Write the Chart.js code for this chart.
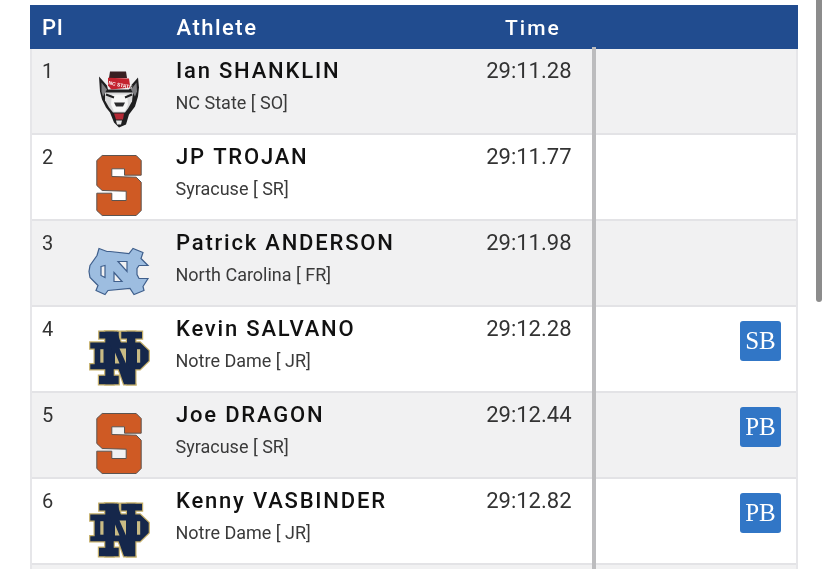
<!DOCTYPE html>
<html>
<head>
<meta charset="utf-8">
<title>Results</title>
<script src="https://cdn.jsdelivr.net/npm/chart.js@4"></script>
<style>
  html, body { margin: 0; padding: 0; background: #fff; overflow: hidden; height: 569px; }
  canvas { display: block; }
</style>
</head>
<body>
<canvas id="results-chart" width="828" height="650"></canvas>
<script>
// table contents, the seventh row is the one cut off by the window
const places = ['1', '2', '3', '4', '5', '6', ''];
const athletes = ['Ian SHANKLIN', 'JP TROJAN', 'Patrick ANDERSON', 'Kevin SALVANO', 'Joe DRAGON', 'Kenny VASBINDER', ''];
const teams = ['NC State', 'Syracuse', 'North Carolina', 'Notre Dame', 'Syracuse', 'Notre Dame', ''];
const classes = ['SO', 'SR', 'FR', 'JR', 'SR', 'JR', ''];
const times = ['29:11.28', '29:11.77', '29:11.98', '29:12.28', '29:12.44', '29:12.82', ''];
const badges = ['', '', '', 'SB', 'PB', 'PB', ''];
const headers = ['Pl', 'Athlete', 'Time'];

// one full width band per row
const rowBands = places.map(() => 768);

const logoPainters = {
    'NC State': drawWolf,
    'Syracuse': drawBlockS,
    'North Carolina': drawInterlockNC,
    'Notre Dame': drawMonogramND,
};

function polygon(ctx, pts) {
    ctx.beginPath();
    pts.forEach((p, i) => (i ? ctx.lineTo(p[0], p[1]) : ctx.moveTo(p[0], p[1])));
    ctx.closePath();
}

function fillPolygon(ctx, pts, color) {
    polygon(ctx, pts);
    ctx.fillStyle = color;
    ctx.fill();
}

function drawBlockS(ctx) {
    polygon(ctx, [[-16.8, -30], [17.2, -30], [22.2, -25], [22.2, -10.3], [5.5, -10.3], [5.5, -16.7], [-7.2, -16.7], [-7.2, -9], [17.2, -8.3], [22.2, -3.3], [22.2, 25], [17.2, 30], [-16.8, 30], [-22.2, 25], [-22.2, 7.7], [-7.2, 7.7], [-7.2, 15], [7.2, 15], [7.2, 5.7], [-16.8, 5], [-22.2, 0], [-22.2, -25]]);
    ctx.fillStyle = '#cf5a24';
    ctx.strokeStyle = '#5c5450';
    ctx.lineWidth = 1;
    ctx.fill();
    ctx.stroke();
}

function drawInterlockNC(ctx) {
    polygon(ctx, [[-22, -16], [-20, -23], [-12, -20], [-9, -20], [10, -18], [14, -23], [24, -19], [22, -13], [29, -6], [20, -6], [18, -3], [18, 3], [20, 7], [29, 7], [24, 15], [25, 19], [15, 23], [11, 17], [-11, 19], [-14, 23], [-23, 19], [-21, 14], [-29, 6], [-30, 0], [-29, -6]]);
    ctx.fillStyle = '#9dbde0';
    ctx.strokeStyle = '#3f5f8c';
    ctx.lineWidth = 1.2;
    ctx.fill();
    ctx.stroke();
    // triangles and the slot inside the letters
    ctx.fillStyle = '#f1f1f2';
    [[[-1, -10], [8, -10], [8, 0]], [[-5, 1], [3, 10], [-5, 10]], [[-18, -5], [-14, -6], [-14, 6], [-18, 4]]].forEach(pts => {
        polygon(ctx, pts);
        ctx.fill();
        ctx.stroke();
    });
}

function drawMonogramND(ctx) {
    const blocks = [
        [[-28.7, -15], [21, -15], [29.7, -6.7], [29.7, 3.3], [21, 11.7], [-28.7, 11.7], [-28.7, 6.7], [-24.3, 6.7], [-24.3, -9], [-28.7, -9]],
        [[-19.7, -25.7], [-0.3, -25.7], [-0.3, -19], [-19.7, -19]],
        [[2.3, -25.7], [23, -25.7], [23, -19], [2.3, -19]],
        [[-13.7, -25.7], [-5.3, -25.7], [-5.3, 26.7], [-13.7, 26.7]],
        [[8, -25.7], [16.3, -25.7], [16.3, 26.7], [8, 26.7]],
        [[-20, 18.3], [-0.3, 18.3], [-0.3, 26.7], [-20, 26.7]],
        [[-13.7, -25.7], [-2, -25.7], [16.3, 26.7], [5, 26.7]],
    ];
    // gold edge first, the navy letters go on top of it
    ctx.strokeStyle = '#c4ae68';
    ctx.lineWidth = 2.4;
    ctx.lineJoin = 'miter';
    blocks.forEach(pts => {
        polygon(ctx, pts);
        ctx.stroke();
    });
    blocks.forEach(pts => fillPolygon(ctx, pts, '#15274b'));
    // pale windows between the letters
    const gold = '#c9bb84';
    ctx.fillStyle = gold;
    ctx.fillRect(-18.7, -8.3, 3.2, 13.5);
    ctx.fillRect(18, -8.3, 3.2, 13.5);
    fillPolygon(ctx, [[-4, -5], [-4, 6], [0.5, 6]], gold);
    fillPolygon(ctx, [[0.5, -9], [7, -9], [7, 6]], gold);
}

function drawWolf(ctx) {
    // head outline with both ears
    fillPolygon(ctx, [[-20, -23], [-12, -14], [-11, -10], [10, -10], [12, -14], [19, -22], [20, -12], [19, -3], [16, 7], [10, 15], [7, 25], [0, 28], [-5, 23], [-9, 13], [-13, 8], [-17, 0], [-19, -8]], '#1f1f20');
    fillPolygon(ctx, [[-17.5, -17], [-12, -10], [-16, -3], [-17.5, -8]], '#7d7d80');
    fillPolygon(ctx, [[17.5, -17], [12, -10], [16, -3], [18, -8]], '#7d7d80');
    // face
    fillPolygon(ctx, [[-14, -7], [14, -7], [13, 2], [9, 9], [6, 13], [-6, 13], [-10, 8], [-14, 1]], '#d9d9da');
    fillPolygon(ctx, [[-7, -5], [8, -5], [9, 5], [6, 12], [-5, 12], [-8, 5]], '#f6f6f6');
    // brows
    ctx.strokeStyle = '#1f1f20';
    ctx.lineWidth = 2;
    ctx.beginPath();
    ctx.moveTo(-13, -5);
    ctx.lineTo(-5, -2);
    ctx.moveTo(13, -5);
    ctx.lineTo(6, -2);
    ctx.stroke();
    // nose
    fillPolygon(ctx, [[-5, 3], [6, 3], [4, 7], [-3, 7]], '#2a2a2c');
    // mouth and chin
    fillPolygon(ctx, [[-5, 14], [5, 14], [4, 20], [-3, 20]], '#b52a36');
    fillPolygon(ctx, [[-3, 21], [3, 21], [2, 25], [-2, 25]], '#e8e8e8');
    // hat
    fillPolygon(ctx, [[-9, -28], [7, -28], [8, -21.5], [-10, -21.5]], '#3a1f22');
    fillPolygon(ctx, [[-11, -21.7], [10, -21], [11.3, -12], [-7.7, -10], [-11, -14]], '#c4232f');
    ctx.save();
    ctx.translate(-10, -19);
    ctx.rotate(0.2);
    ctx.fillStyle = '#ffffff';
    ctx.font = 'bold 5px "Liberation Sans"';
    ctx.textAlign = 'left';
    ctx.textBaseline = 'top';
    ctx.fillText('NC STATE', 0, 0);
    ctx.restore();
}

function putText(ctx, text, x, y, font, color, align, spacing) {
    ctx.font = font;
    ctx.fillStyle = color;
    ctx.textAlign = align || 'left';
    ctx.textBaseline = 'alphabetic';
    ctx.letterSpacing = spacing || '0px';
    ctx.fillText(text, x, y);
    ctx.letterSpacing = '0px';
}

function roundedRect(ctx, x, y, w, h, r, color) {
    ctx.fillStyle = color;
    ctx.beginPath();
    ctx.roundRect(x, y, w, h, r);
    ctx.fill();
}

// everything that is not a row band: header, rule, text, logos, badges
const tableCells = {
    id: 'tableCells',
    afterDraw(chart) {
        const { ctx, chartArea, scales: { x, y } } = chart;
        const rowHeight = y.height / places.length;
        const left = chartArea.left;
        const right = chartArea.right;

        ctx.save();
        // outer edges of the table
        ctx.fillStyle = '#e6e6e9';
        ctx.fillRect(left, chartArea.top, 2, y.height);
        ctx.fillRect(right - 2, chartArea.top, 2, y.height);

        // header band
        ctx.fillStyle = '#214c8f';
        ctx.fillRect(left, 5, right - left, chartArea.top + 1 - 5);
        putText(ctx, headers[0], x.getPixelForValue(12), 35, '500 22px Roboto', '#ffffff', 'left', '1px');
        putText(ctx, headers[1], x.getPixelForValue(146.5), 35, '500 22px Roboto', '#ffffff', 'left', '1.5px');
        putText(ctx, headers[2], x.getPixelForValue(475), 35, '500 21px Roboto', '#ffffff', 'left', '2px');

        places.forEach((place, i) => {
            if (!place) return;
            const top = y.getPixelForValue(i) - rowHeight / 2;
            putText(ctx, place, x.getPixelForValue(12), top + 29.5, '400 20px Roboto', '#333333');
            putText(ctx, athletes[i], x.getPixelForValue(146), top + 30, '500 22px Roboto', '#111111', 'left', '1.8px');
            putText(ctx, teams[i] + ' [ ' + classes[i] + ']', x.getPixelForValue(145.5), top + 61, '400 18px Roboto', '#3a3a3a');
            putText(ctx, times[i], x.getPixelForValue(541.5), top + 30, '400 22px Roboto', '#333333', 'right');

            ctx.save();
            ctx.translate(x.getPixelForValue(89), top + 51.5);
            logoPainters[teams[i]](ctx);
            ctx.restore();

            if (badges[i]) {
                const bx = x.getPixelForValue(710);
                roundedRect(ctx, bx, top + 15, 41, 40, 3, '#3176c6');
                putText(ctx, badges[i], bx + 20.5, top + 43, '400 25px "Liberation Serif"', '#ffffff', 'center');
            }
        });

        // grey rule between the time and the badge columns
        ctx.fillStyle = '#bcbcbe';
        ctx.fillRect(x.getPixelForValue(562), chartArea.top - 1, 4, y.height + 1);

        // scrollbar of the page
        roundedRect(ctx, 816, -6, 6, 308, 3, '#8c8c8c');
        ctx.restore();
    }
};

const resultsChart = new Chart(document.getElementById('results-chart').getContext('2d'), {
    type: 'bar',
    data: {
        labels: places,
        datasets: [{
            label: 'Rows',
            data: rowBands,
            backgroundColor: places.map((p, i) => (i % 2 ? '#ffffff' : '#f1f1f2')),
            borderWidth: 0,
            barPercentage: 1,
            categoryPercentage: 1
        }]
    },
    options: {
        indexAxis: 'y',
        responsive: false,
        animation: false,
        layout: { padding: { left: 30, right: 30, top: 48, bottom: 0 } },
        scales: {
            x: { display: false, min: 0, max: 768 },
            y: {
                position: 'left',
                ticks: { display: false },
                border: { display: false },
                grid: { color: '#e3e3e6', lineWidth: 2, drawTicks: false, z: 1 }
            }
        },
        plugins: {
            legend: { display: false },
            tooltip: { enabled: false }
        }
    },
    plugins: [tableCells]
});
</script>
</body>
</html>
